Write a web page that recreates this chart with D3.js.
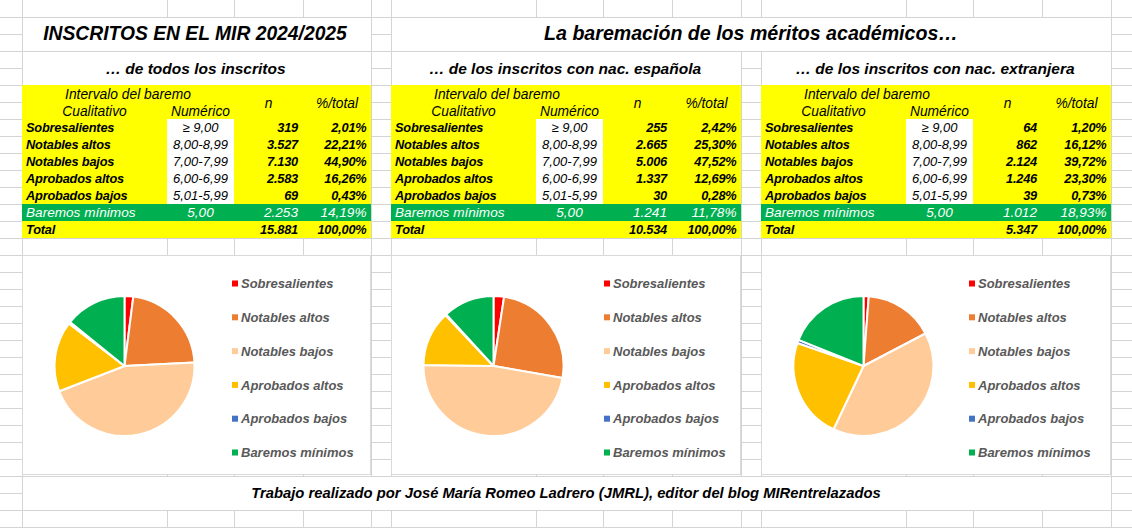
<!DOCTYPE html>
<html><head><meta charset="utf-8">
<script src="https://cdn.jsdelivr.net/npm/d3@7"></script>
<style>
html,body{margin:0;padding:0;background:#fff;}
svg{display:block;font-family:"Liberation Sans",Arial,sans-serif;}
</style></head>
<body><svg id="c" width="1132" height="528"></svg>
<script>
// ---------- DATA ----------
const categories = ["Sobresalientes","Notables altos","Notables bajos","Aprobados altos","Aprobados bajos","Baremos mínimos"];
const numericRanges = ["≥ 9,00","8,00-8,99","7,00-7,99","6,00-6,99","5,01-5,99","5,00"];
const nTodos = [319, 3527, 7130, 2583, 69, 2253];
const pctTodos = [2.01, 22.21, 44.90, 16.26, 0.43, 14.19];
const nEspanola = [255, 2665, 5006, 1337, 30, 1241];
const pctEspanola = [2.42, 25.30, 47.52, 12.69, 0.28, 11.78];
const nExtranjera = [64, 862, 2124, 1246, 39, 1012];
const pctExtranjera = [1.20, 16.12, 39.72, 23.30, 0.73, 18.93];
const subtitles = ["… de todos los inscritos","… de los inscritos con nac. española","… de los inscritos con nac. extranjera"];
const title1 = "INSCRITOS EN EL MIR 2024/2025";
const title2 = "La baremación de los méritos académicos…";
const footer = "Trabajo realizado por José María Romeo Ladrero (JMRL), editor del blog MIRentrelazados";
const sliceColors = ["#ff0000","#ed7d31","#ffcc99","#ffc000","#4472c4","#00b050"];

// ---------- LAYOUT ----------
const W = 1132, H = 528, ROW = 17;
const svg = d3.select("#c");
const loc = d3.formatLocale({decimal:",", thousands:".", grouping:[3], currency:["","€"]});
const fInt = loc.format(",d");
const fPct = v => loc.format(",.2f")(v) + "%";

const panelX = [22, 391, 761];
const panelW = [349, 350, 350];
const legendOff = [210, 213, 208];
const colOff = [0, 145, 212, 281];
const colEdges = [];
panelX.forEach((x,i)=>{ colOff.forEach(o=>colEdges.push(x+o)); colEdges.push(x+panelW[i]); });

const grid = svg.append("g").attr("stroke","#d4d4d4").attr("stroke-width",1).attr("shape-rendering","crispEdges");
colEdges.forEach(x=>grid.append("line").attr("x1",x+0.5).attr("x2",x+0.5).attr("y1",0).attr("y2",H));
for(let y=ROW; y<H; y+=ROW) grid.append("line").attr("x1",0).attr("x2",W).attr("y1",y+0.5).attr("y2",y+0.5);

const crisp = s => s.attr("shape-rendering","crispEdges");
function mergeCell(x0,y0,x1,y1){ crisp(svg.append("rect").attr("x",x0+1).attr("y",y0+1).attr("width",x1-x0-1).attr("height",y1-y0-1).attr("fill","#fff")); }

// titles
mergeCell(22,17,371,51);
mergeCell(391,17,1111,51);
svg.append("text").attr("x",195).attr("y",40).attr("text-anchor","middle")
  .attr("font-size",19.3).attr("font-weight","bold").attr("font-style","italic").attr("fill","#000").text(title1);
svg.append("text").attr("x",751).attr("y",40).attr("text-anchor","middle")
  .attr("font-size",19.6).attr("font-weight","bold").attr("font-style","italic").attr("fill","#000").text(title2);

const panelsData = [
  {n:nTodos, pct:pctTodos},
  {n:nEspanola, pct:pctEspanola},
  {n:nExtranjera, pct:pctExtranjera}
];

const pie = d3.pie().sort(null).value(d=>d);
const arc = d3.arc().innerRadius(0).outerRadius(70);

panelsData.forEach((pd,pi)=>{
  const x0 = panelX[pi], w = panelW[pi];
  const c = colOff.map(o=>x0+o).concat([x0+w]);
  // subtitle
  mergeCell(x0,51,x0+w,85);
  svg.append("text").attr("x",x0+w/2-1).attr("y",74).attr("text-anchor","middle")
    .attr("font-size",15.5).attr("font-weight","bold").attr("font-style","italic").attr("fill","#000").text(subtitles[pi]);
  // table background
  crisp(svg.append("rect").attr("x",x0).attr("y",85).attr("width",w).attr("height",238-85).attr("fill","#ffff00"));
  crisp(svg.append("rect").attr("x",c[1]).attr("y",119).attr("width",c[2]-c[1]).attr("height",85).attr("fill","#fff"));
  crisp(svg.append("rect").attr("x",x0).attr("y",204).attr("width",w).attr("height",17).attr("fill","#00b050"));
  const t = svg.append("g").attr("font-style","italic");
  const hdr = (x,y,txt)=>t.append("text").attr("x",x).attr("y",y).attr("text-anchor","middle")
      .attr("font-size",13.8).attr("font-weight","normal").attr("fill","#000").text(txt);
  hdr((c[0]+c[2])/2, 98.5, "Intervalo del baremo");
  hdr((c[0]+c[1])/2, 115.5, "Cualitativo");
  hdr((c[1]+c[2])/2, 115.5, "Numérico");
  hdr((c[2]+c[3])/2, 107.5, "n");
  hdr((c[3]+c[4])/2, 107.5, "%/total");
  const bold = s => s.attr("font-size",12.8).attr("font-weight","bold").attr("letter-spacing",-0.2);
  const reg = s => s.attr("font-size",13.6).attr("font-weight","normal");
  categories.forEach((cat,i)=>{
    const yc = 119 + i*17 + 8.5 + 4.6;
    const green = i===5;
    const fill = green ? "#fff" : "#000";
    const st = green ? reg : bold;
    st(t.append("text").attr("x",c[0]+4).attr("y",yc).attr("fill",fill).text(cat));
    t.append("text").attr("x",(c[1]+c[2])/2).attr("y",yc).attr("text-anchor","middle").attr("fill",fill)
      .attr("font-weight","normal").attr("font-size",green?13.6:13).text(numericRanges[i]);
    st(t.append("text").attr("x",c[3]-5).attr("y",yc).attr("text-anchor","end").attr("fill",fill).text(fInt(pd.n[i])));
    st(t.append("text").attr("x",c[4]-4.5).attr("y",yc).attr("text-anchor","end").attr("fill",fill).text(fPct(pd.pct[i])));
  });
  const yt = 221 + 8.5 + 4.6;
  const total = d3.sum(pd.n);
  bold(t.append("text").attr("x",c[0]+4).attr("y",yt).text("Total"));
  bold(t.append("text").attr("x",c[3]-5).attr("y",yt).attr("text-anchor","end").text(fInt(total)));
  bold(t.append("text").attr("x",c[4]-4.5).attr("y",yt).attr("text-anchor","end").text(fPct(100*total/total)));

  // chart box
  svg.append("rect").attr("x",x0+0.5).attr("y",255.5).attr("width",w-1).attr("height",219).attr("fill","#fff")
    .attr("stroke","#d9d9d9").attr("stroke-width",1);
  const g = svg.append("g").attr("transform",`translate(${x0+102.5},${366})`);
  g.selectAll("path").data(pie(pd.n)).join("path")
    .attr("d",arc).attr("fill",(d,i)=>sliceColors[i]).attr("stroke","#fff").attr("stroke-width",2).attr("stroke-linejoin","round");
  const lg = svg.append("g");
  const lx = x0 + legendOff[pi];
  categories.forEach((cat,i)=>{
    const y = 283.5 + i*33.8;
    lg.append("rect").attr("x",lx).attr("y",y-3).attr("width",6).attr("height",6).attr("fill",sliceColors[i]);
    lg.append("text").attr("x",lx+9).attr("y",y+4.6).attr("font-size",13).attr("font-weight","bold")
      .attr("font-style","italic").attr("fill","#595959").text(cat);
  });
});

// footer
mergeCell(22,476,1111,510);
svg.append("text").attr("x",566).attr("y",498).attr("text-anchor","middle")
  .attr("font-size",14.8).attr("font-weight","bold").attr("font-style","italic").attr("fill","#000").text(footer);
</script></body></html>
